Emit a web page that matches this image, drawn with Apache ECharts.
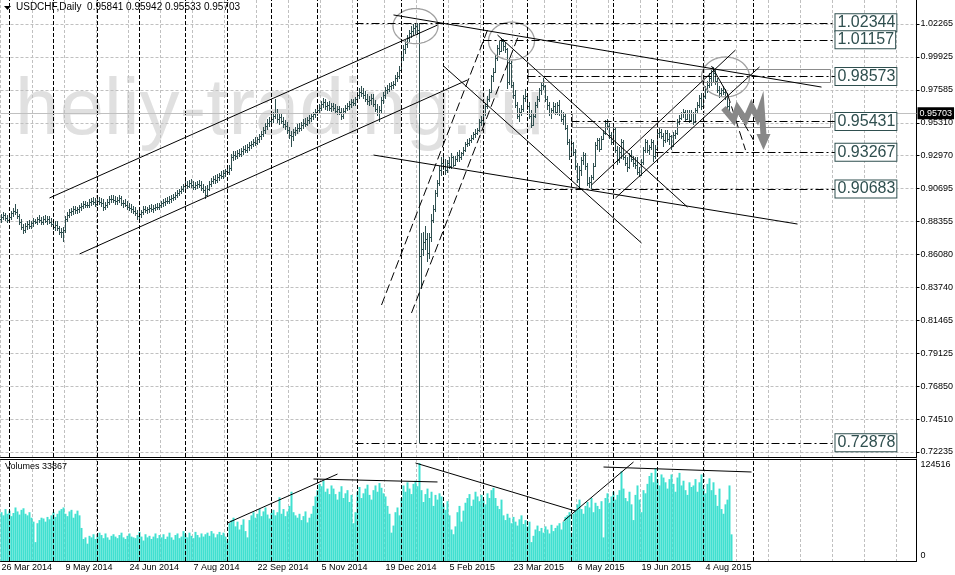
<!DOCTYPE html>
<html><head><meta charset="utf-8">
<script src="https://cdn.jsdelivr.net/npm/echarts@6/dist/echarts.min.js"></script>
<style>html,body{margin:0;padding:0;background:#fff}#c{width:955px;height:575px}</style>
</head><body><div id="c"></div>
<script>
// ---------------- DATA ----------------
const symbolTitle = 'USDCHF,Daily  0.95841 0.95942 0.95533 0.95703';
const volumeTitle = 'Volumes 33867';
const startDate = [2014, 2, 26];            // 26 Mar 2014 (first bar)
const holidays = ['2014-12-25', '2015-01-01'];
const totalSlots = 458;                      // bars + empty future space
const priceTickLabels = ['0.72235','0.74510','0.76850','0.79125','0.81465','0.83740','0.86080','0.88355','0.90695','0.92970','0.95310','0.97585','0.99925','1.02265'];
const priceTickStart = 0.72235, priceTickStep = 0.0231;
const volumeMaxLabel = '124516';
const bidPrice = 0.95703;

// daily bars [open, high, low, close] in pips (x 0.0001)
const ohlcPips = [
[8855,8892,8833,8870],[8870,8905,8848,8885],[8885,8900,8843,8862],[8862,8885,8830,8850],[8850,8890,8833,8872],[8872,8915,8853,8898],[8898,8932,8873,8912],[8912,8965,8883,8905],[8905,8925,8858,8878],[8878,8895,8818,8838],
[8838,8855,8778,8800],[8800,8825,8753,8780],[8780,8827,8758,8808],[8808,8847,8783,8825],[8825,8852,8788,8812],[8812,8847,8788,8830],[8830,8862,8803,8842],[8842,8860,8820,8838],[8838,8874,8816,8855],[8855,8884,8828,8848],
[8848,8872,8813,8835],[8835,8880,8816,8860],[8860,8884,8828,8845],[8845,8877,8818,8858],[8858,8882,8823,8840],[8840,8867,8803,8825],[8825,8852,8778,8800],[8800,8842,8773,8818],[8818,8842,8773,8792],[8792,8812,8743,8765],
[8765,8797,8728,8770],[8770,8802,8700,8782],[8782,8882,8763,8858],[8858,8907,8838,8885],[8885,8927,8863,8905],[8905,8937,8878,8912],[8912,8952,8888,8930],[8930,8950,8893,8918],[8918,8944,8893,8925],[8925,8960,8903,8940],
[8940,8970,8913,8950],[8950,8984,8928,8965],[8965,8987,8933,8955],[8955,8977,8933,8960],[8960,8997,8938,8978],[8978,9007,8953,8985],[8985,9012,8958,8980],[8980,9007,8943,8965],[8965,9002,8948,8982],[8982,9012,8956,8975],
[8975,9004,8943,8970],[8970,8997,8913,8940],[8940,8977,8918,8958],[8958,8997,8938,8978],[8978,9017,8956,8998],[8998,9027,8973,9002],[9002,9030,8973,8995],[8995,9022,8960,8985],[8985,9010,8956,8990],[8990,9024,8968,9005],
[9005,9022,8948,8968],[8968,8992,8938,8972],[8972,8997,8943,8960],[8960,8984,8923,8945],[8945,8970,8913,8938],[8938,8962,8903,8925],[8925,8952,8893,8915],[8915,8940,8878,8900],[8900,8922,8853,8878],[8878,8912,8850,8890],
[8890,8924,8868,8905],[8905,8947,8883,8928],[8928,8952,8898,8918],[8918,8944,8893,8925],[8925,8957,8903,8938],[8938,8962,8908,8930],[8930,8957,8903,8935],[8935,8964,8913,8945],[8945,8972,8918,8940],[8940,8974,8920,8955],
[8955,8987,8933,8968],[8968,8997,8943,8978],[8978,9007,8953,8988],[8988,9014,8963,8982],[8982,9017,8963,8998],[8998,9027,8973,9008],[9008,9037,8983,9015],[9015,9050,8993,9030],[9030,9062,9008,9042],[9042,9072,9018,9055],
[9055,9092,9033,9072],[9072,9107,9048,9088],[9088,9122,9063,9100],[9100,9127,9068,9092],[9092,9130,9073,9110],[9110,9137,9078,9098],[9098,9124,9063,9085],[9085,9117,9060,9095],[9095,9127,9068,9105],[9105,9132,9076,9098],
[9098,9122,9058,9078],[9078,9104,9038,9060],[9060,9087,8998,9030],[9030,9097,9013,9072],[9072,9122,9053,9102],[9102,9147,9083,9128],[9128,9162,9103,9140],[9140,9170,9106,9132],[9132,9172,9113,9152],[9152,9184,9128,9165],
[9165,9194,9138,9160],[9160,9200,9140,9180],[9180,9212,9156,9192],[9192,9222,9166,9185],[9185,9237,9168,9218],[9218,9312,9198,9290],[9290,9332,9263,9310],[9310,9337,9273,9300],[9300,9342,9278,9322],[9322,9352,9293,9315],
[9315,9357,9296,9338],[9338,9370,9308,9350],[9350,9377,9318,9342],[9342,9382,9323,9362],[9362,9397,9338,9378],[9378,9407,9348,9385],[9385,9422,9360,9402],[9402,9432,9373,9395],[9395,9437,9376,9418],[9418,9457,9393,9438],
[9438,9477,9416,9455],[9455,9502,9433,9482],[9482,9532,9458,9510],[9510,9557,9483,9535],[9535,9572,9503,9548],[9548,9587,9518,9560],[9560,9607,9533,9580],[9580,9700,9558,9600],[9600,9627,9533,9560],[9560,9597,9518,9575],
[9575,9602,9523,9545],[9545,9577,9498,9522],[9522,9552,9483,9508],[9508,9537,9458,9480],[9480,9507,9418,9445],[9445,9477,9365,9440],[9440,9492,9408,9470],[9470,9507,9443,9485],[9485,9522,9458,9500],[9500,9532,9468,9495],
[9495,9542,9473,9520],[9520,9557,9493,9535],[9535,9567,9503,9528],[9528,9572,9508,9552],[9552,9587,9523,9565],[9565,9600,9536,9580],[9580,9612,9550,9592],[9592,9632,9568,9610],[9610,9647,9583,9625],[9625,9662,9598,9638],
[9638,9687,9613,9665],[9665,9707,9638,9680],[9680,9702,9623,9648],[9648,9682,9618,9660],[9660,9687,9613,9635],[9635,9670,9606,9648],[9648,9674,9616,9640],[9640,9664,9596,9618],[9618,9650,9586,9628],[9628,9654,9590,9612],
[9612,9634,9553,9580],[9580,9637,9560,9615],[9615,9657,9593,9638],[9638,9672,9613,9650],[9650,9687,9623,9662],[9662,9700,9638,9678],[9678,9702,9648,9670],[9670,9717,9653,9698],[9698,9750,9673,9725],[9725,9777,9698,9750],
[9750,9792,9713,9740],[9740,9777,9703,9728],[9728,9757,9678,9702],[9702,9732,9658,9688],[9688,9724,9648,9695],[9695,9732,9658,9705],[9705,9732,9643,9665],[9665,9692,9608,9632],[9632,9662,9578,9605],[9605,9652,9540,9625],
[9625,9712,9603,9690],[9690,9752,9668,9728],[9728,9782,9703,9760],[9760,9797,9733,9772],[9772,9812,9748,9790],[9790,9817,9763,9795],[9795,9827,9773,9808],[9808,9867,9788,9845],[9845,9887,9818,9862],[9862,9932,9838,9905],
[9905,10022,9883,9995],[9995,10082,9968,10050],[10050,10112,10018,10085],[10085,10152,10058,10125],[10125,10187,10098,10160],[10160,10212,10128,10175],[10175,10228,10143,10200],[10200,10234,10158,10210],[10210,10232,10148,10185],[10185,10234,7288,8600],
[8600,8760,8365,8650],[8650,8770,8600,8700],[8700,8810,8640,8720],[8720,8760,8560,8620],[8620,8760,8580,8730],[8730,8890,8700,8850],[8850,8960,8830,8930],[8930,9060,8910,9040],[9040,9130,9010,9110],[9110,9230,9090,9200],
[9200,9290,9160,9250],[9250,9310,9200,9230],[9230,9280,9170,9200],[9200,9270,9180,9250],[9250,9290,9210,9230],[9230,9320,9210,9290],[9290,9300,9220,9240],[9240,9300,9230,9280],[9280,9330,9260,9310],[9310,9340,9260,9290],
[9290,9330,9270,9320],[9320,9360,9300,9345],[9345,9400,9330,9385],[9385,9420,9360,9395],[9395,9430,9370,9410],[9410,9450,9390,9430],[9430,9470,9410,9455],[9455,9490,9430,9465],[9465,9500,9445,9480],[9480,9560,9470,9540],
[9540,9580,9510,9550],[9550,9620,9530,9600],[9600,9670,9580,9650],[9650,9720,9630,9700],[9700,9770,9680,9750],[9750,9870,9740,9860],[9860,9920,9820,9890],[9890,10010,9880,9990],[9990,10080,9970,10060],[10060,10110,10010,10040],
[10040,10128,10030,10110],[10110,10120,10040,10070],[10070,10100,10020,10050],[10050,10060,9770,9820],[9820,9990,9800,9950],[9950,9970,9780,9800],[9800,9820,9700,9730],[9730,9760,9640,9660],[9660,9680,9560,9580],[9580,9640,9540,9610],
[9610,9660,9580,9630],[9630,9730,9610,9710],[9710,9770,9680,9720],[9720,9740,9620,9650],[9650,9680,9560,9580],[9580,9620,9500,9520],[9520,9600,9510,9580],[9580,9680,9570,9660],[9660,9720,9640,9700],[9700,9780,9680,9760],
[9760,9820,9730,9800],[9800,9850,9760,9790],[9790,9800,9680,9700],[9700,9720,9620,9660],[9660,9680,9580,9600],[9600,9640,9560,9620],[9620,9680,9600,9650],[9650,9670,9590,9610],[9610,9680,9590,9660],[9660,9690,9580,9600],
[9600,9620,9540,9560],[9560,9610,9520,9580],[9580,9600,9480,9500],[9500,9520,9380,9400],[9400,9420,9270,9300],[9300,9420,9290,9390],[9390,9400,9300,9330],[9330,9350,9200,9230],[9230,9250,9110,9140],[9140,9230,9072,9200],
[9200,9290,9160,9270],[9270,9330,9240,9310],[9310,9320,9200,9230],[9230,9250,9090,9110],[9110,9150,9075,9120],[9120,9170,9071,9150],[9150,9250,9130,9230],[9230,9400,9220,9380],[9380,9430,9340,9410],[9410,9430,9330,9350],
[9350,9440,9340,9420],[9420,9480,9410,9460],[9460,9550,9450,9530],[9530,9560,9480,9510],[9510,9530,9420,9450],[9450,9470,9380,9400],[9400,9510,9390,9490],[9490,9500,9320,9340],[9340,9370,9240,9270],[9270,9360,9250,9330],
[9330,9420,9280,9400],[9400,9410,9270,9290],[9290,9310,9230,9250],[9250,9290,9190,9220],[9220,9320,9210,9300],[9300,9340,9260,9280],[9280,9300,9220,9250],[9250,9290,9210,9240],[9240,9290,9170,9190],[9190,9220,9150,9170],
[9170,9280,9160,9260],[9260,9360,9240,9340],[9340,9420,9320,9400],[9400,9410,9320,9340],[9340,9380,9310,9360],[9360,9420,9340,9400],[9400,9410,9260,9300],[9300,9380,9280,9350],[9350,9480,9340,9460],[9460,9500,9430,9470],
[9470,9490,9420,9440],[9440,9460,9360,9410],[9410,9480,9390,9460],[9460,9480,9400,9420],[9420,9460,9380,9440],[9440,9450,9340,9370],[9370,9470,9360,9450],[9450,9480,9420,9460],[9460,9560,9450,9540],[9540,9590,9520,9570],
[9570,9610,9550,9600],[9600,9630,9570,9610],[9610,9620,9540,9560],[9560,9620,9550,9600],[9600,9620,9530,9550],[9550,9620,9540,9600],[9600,9610,9520,9540],[9540,9640,9530,9620],[9620,9680,9600,9660],[9660,9730,9640,9710],
[9710,9740,9620,9650],[9650,9730,9640,9720],[9720,9790,9700,9770],[9770,9830,9740,9800],[9800,9880,9780,9850],[9850,9910,9790,9820],[9820,9925,9810,9880],[9880,9910,9800,9830],[9830,9850,9740,9760],[9760,9790,9710,9740],
[9740,9780,9720,9760],[9760,9790,9730,9750],[9750,9770,9690,9720],[9720,9740,9620,9650],[9650,9680,9580,9584.1],[9584.1,9594.2,9553.3,9570.3]
];

// daily tick volume, thousands
const volumesK = [
62,58,66,60,64,57,61,68,63,59, 65,67,60,58,62,55,50,24,48,52, 55,54,50,56,53,58,62,56,60,64, 66,68,60,57,63,65,55,60,64,58,
42,28,30,22,32,30,34,28,31,36, 33,29,35,30,27,32,34,31,29,33, 36,30,28,32,35,31,30,29,33,37, 31,26,34,30,32,28,31,35,29,33,
30,34,28,31,36,30,27,33,35,29, 31,38,34,30,36,32,29,37,33,30, 35,31,34,36,32,38,35,30,34,37, 33,36,31,25,48,52,55,44,50,40,
46,53,38,30,52,58,62,55,60,66, 57,63,68,59,54,61,65,58,62,81, 60,66,57,63,70,88,62,58,55,60, 52,57,63,49,55,60,70,82,90,98,
95,102,88,92,85,96,92,85,78,88, 95,80,86,90,75,84,48,62,88,94, 80,86,92,97,84,78,90,96,88,99, 93,86,82,70,60,36,45,62,68,58,
80,96,88,100,92,85,98,102,95,124.516, 90,75,85,92,80,88,70,84,78,86, 82,72,65,76,58,40,34,44,62,70, 50,64,74,80,85,70,78,88,82,76,
84,78,72,86,80,90,93,80,70,66, 78,58,52,60,55,48,56,50,45,53, 58,47,52,44,50,24,32,40,45,38, 42,36,44,40,35,46,38,42,45,48,
40,50,56,58,62,36,60,65,72,78, 66,60,70,75,68,80,62,74,70,66, 76,30,80,86,74,82,88,78,84,90, 114,92,80,76,88,72,52,84,96,78,
62,90,86,98,108,112,100,118,104,96, 110,106,100,92,104,110,98,88,106,112, 96,102,90,84,100,94,96,104,88,100, 110,92,86,98,105,90,100,84,70,92,
66,60,72,78,96,33.867
];

// drawn objects (bar index, price)
const levelLines = [
  {value: 1.02344, from: 177}, {value: 1.01157, from: 241}, {value: 0.98573, from: 263},
  {value: 0.95431, from: 285}, {value: 0.93267, from: 327}, {value: 0.90683, from: 263},
  {value: 0.72878, from: 177}
];
const levelEnd = 417;
const trendLines = [
  [[24, 0.9006], [218, 1.0219]],
  [[196, 1.0290], [410, 0.9784]],
  [[39, 0.8613], [233, 0.9834]],
  [[221, 0.9932], [320, 0.8690]],
  [[186, 0.9307], [398, 0.8823]],
  [[248, 1.0149], [343, 0.8942]],
  [[295, 0.9097], [367, 1.0044]],
  [[307, 0.9006], [379, 0.9925]],
  [[355, 0.9932], [363, 0.9735]]
];
const dashedLines = [
  [[190, 0.8255], [243, 1.0184]],
  [[205, 0.8199], [259, 1.0163]],
  [[363, 0.9735], [372, 0.9342]],
  [[368, 0.9609], [376, 0.9412]]
];
const extraVLines = [376];
const zones = [[263, 0.9909, 414, 0.9817], [285, 0.9600, 414, 0.9502]];
const ellipses = [[207, 1.0212, 11.25, 0.0123], [255, 1.0107, 11.5, 0.0133], [362, 0.9855, 12, 0.0140]];
const arrowPath = [[361, 0.9637], [366, 0.9553], [368, 0.9637], [372, 0.9553], [375, 0.9651], [378, 0.9567], [380, 0.9651], [381, 0.9448]];
const arrowTip = [381, 0.9342];
const volumeLinesK = [
  [[113, 48.3], [168, 110.5]],
  [[156, 104.2], [218, 100.4]],
  [[207, 124.5], [287, 63.5]],
  [[281, 50.8], [316, 125.8]],
  [[301, 119.4], [375, 113.1]]
];

// ---------------- BUILD ----------------
const MONTHS = ['Jan','Feb','Mar','Apr','May','Jun','Jul','Aug','Sep','Oct','Nov','Dec'];
const dates = [], monthOf = [];
{
  const d = new Date(Date.UTC(startDate[0], startDate[1], startDate[2]));
  while (dates.length < totalSlots) {
    const wd = d.getUTCDay();
    const iso = d.toISOString().slice(0, 10);
    if (wd !== 0 && wd !== 6 && holidays.indexOf(iso) < 0) {
      dates.push(d.getUTCDate() + ' ' + MONTHS[d.getUTCMonth()] + ' ' + d.getUTCFullYear());
      monthOf.push(d.getUTCMonth());
    }
    d.setUTCDate(d.getUTCDate() + 1);
  }
}
const ohlc = ohlcPips.map(b => b.map(v => v / 10000));
const lastIdx = ohlc.length - 1;
const vols = volumesK.map(v => Math.round(v * 1000));
const monthStarts = [];
for (let i = 1; i <= lastIdx; i++) if (monthOf[i] !== monthOf[i - 1]) monthStarts.push(i);
const priceTicks = priceTickLabels.map((_, k) => +(priceTickStart + k * priceTickStep).toFixed(5));

const PRICE_MAX = 1.03949, PRICE_MIN = 0.71884, VOL_MAX = 129600;
const FN = '"Liberation Sans",sans-serif';
const GRIDLINE = {color: '#c0c0c0', type: [3, 2], width: 1};
const SEP = {color: '#000', type: [4, 2], width: 1};
const SOLID = {color: '#000', type: 'solid', width: 1};
const DASH = {color: '#000', type: [9, 4], width: 1};
const DASHDOT = {color: '#000', type: [8, 3, 2, 3], width: 1};

const mainMarks = [];
monthStarts.concat(extraVLines).forEach(i => mainMarks.push({xAxis: i, lineStyle: SEP}));
mainMarks.push({yAxis: bidPrice, lineStyle: {color: '#c0c0c0', type: 'solid', width: 1},
  label: {show: true, position: 'end', distance: 1, formatter: bidPrice.toFixed(5), color: '#fff',
    backgroundColor: '#000', padding: [2, 2, 1, 2], fontSize: 9, fontFamily: FN}});
levelLines.forEach(l => mainMarks.push([
  {coord: [l.from, l.value], lineStyle: DASHDOT,
   label: {show: true, position: 'end', distance: 0, formatter: l.value.toFixed(5), color: '#2f4f4f',
     fontSize: 16, lineHeight: 16, fontFamily: FN, backgroundColor: '#fff',
     borderColor: '#2f4f4f', borderWidth: 1, padding: [1, 1, 0, 2]}},
  {coord: [levelEnd, l.value]}]));
trendLines.forEach(s => mainMarks.push([{coord: s[0].slice(), lineStyle: SOLID}, {coord: s[1].slice()}]));
dashedLines.forEach(s => mainMarks.push([{coord: s[0].slice(), lineStyle: DASH}, {coord: s[1].slice()}]));

const volMarks = [];
monthStarts.concat(extraVLines).forEach(i => volMarks.push({xAxis: i, lineStyle: SEP}));
volumeLinesK.forEach(s => volMarks.push([{coord: [s[0][0], s[0][1] * 1000], lineStyle: SOLID}, {coord: [s[1][0], s[1][1] * 1000]}]));

const BAR_COLOR = '#2f4f4f';
const chart = echarts.init(document.getElementById('c'), null, {renderer: 'canvas'});
chart.setOption({
  animation: false,
  backgroundColor: '#ffffff',
  grid: [
    {left: 0.5, right: 38.5, top: 0, height: 457, outerBoundsMode: 'none', containLabel: false},
    {left: 0.5, right: 38.5, top: 459, height: 102, outerBoundsMode: 'none', containLabel: false}
  ],
  xAxis: [
    {type: 'category', gridIndex: 0, data: dates, boundaryGap: true,
     axisLine: {show: true, onZero: false, lineStyle: {color: '#000'}}, axisTick: {show: false}, axisLabel: {show: false},
     splitLine: {show: true, interval: 15, lineStyle: GRIDLINE}},
    {type: 'category', gridIndex: 1, data: dates, boundaryGap: true, position: 'bottom',
     axisLine: {show: true, onZero: false, lineStyle: {color: '#000'}}, axisTick: {show: false},
     axisLabel: {show: true, interval: 31, align: 'left', margin: 2, color: '#000', fontSize: 9, fontFamily: FN,
       hideOverlap: false, formatter: (v, idx) => idx <= lastIdx ? v : ''},
     splitLine: {show: true, interval: 15, lineStyle: GRIDLINE}},
    {type: 'category', gridIndex: 1, data: dates, boundaryGap: true, position: 'top',
     axisLine: {show: true, onZero: false, lineStyle: {color: '#000'}}, axisTick: {show: false}, axisLabel: {show: false},
     splitLine: {show: false}}
  ],
  yAxis: [
    {type: 'value', gridIndex: 0, position: 'right', min: PRICE_MIN, max: PRICE_MAX, scale: true,
     axisLine: {show: true, lineStyle: {color: '#000'}},
     axisTick: {show: true, length: 3, customValues: priceTicks, lineStyle: {color: '#000'}},
     axisLabel: {show: true, customValues: priceTicks, margin: 4, color: '#000', fontSize: 9, fontFamily: FN,
       formatter: v => priceTickLabels[Math.round((v - priceTickStart) / priceTickStep)] || ''},
     splitLine: {show: true, lineStyle: GRIDLINE}},
    {type: 'value', gridIndex: 1, position: 'right', min: 0, max: VOL_MAX,
     axisLine: {show: true, lineStyle: {color: '#000'}}, axisTick: {show: false},
     axisLabel: {show: true, customValues: [6400, 122000], margin: 4, color: '#000', fontSize: 9, fontFamily: FN,
       formatter: v => v > 60000 ? volumeMaxLabel : '0'},
     splitLine: {show: false}}
  ],
  graphic: [
    {type: 'text', left: 15, top: 72, z: -5, silent: true,
     style: {text: 'heliy-trading.ru', font: '80px "Liberation Sans", sans-serif', fill: '#e0e0e0'}},
    {type: 'polygon', z: 50, silent: true, shape: {points: [[4, 6], [11, 6], [7.5, 10]]}, style: {fill: '#000'}},
    {type: 'text', left: 16, top: 2, z: 50, silent: true,
     style: {text: symbolTitle, font: '10px ' + FN, fill: '#000'}},
    {type: 'text', left: 5, top: 462, z: 50, silent: true,
     style: {text: volumeTitle, font: '9px ' + FN, fill: '#000'}}
  ],
  series: [
    {type: 'custom', name: 'bars', xAxisIndex: 0, yAxisIndex: 0, silent: true, clip: true, z: 2,
     data: ohlc.map((b, i) => [i, b[0], b[1], b[2], b[3]]),
     encode: {x: 0, y: [1, 2, 3, 4]},
     renderItem: (params, api) => {
       const i = api.value(0);
       const o = api.coord([i, api.value(1)]);
       const h = api.coord([i, api.value(2)]);
       const l = api.coord([i, api.value(3)]);
       const c = api.coord([i, api.value(4)]);
       const x = Math.floor(h[0]) + 0.5;
       let y1 = Math.round(h[1]), y2 = Math.round(l[1]);
       if (y2 - y1 < 1) y2 = y1 + 1;
       const yo = Math.round(o[1]) + 0.5, yc = Math.round(c[1]) + 0.5;
       const st = {stroke: BAR_COLOR, lineWidth: 1};
       return {type: 'group', children: [
         {type: 'line', shape: {x1: x, y1: y1, x2: x, y2: y2}, style: st},
         {type: 'line', shape: {x1: x - 1.5, y1: yo, x2: x, y2: yo}, style: st},
         {type: 'line', shape: {x1: x, y1: yc, x2: x + 1.5, y2: yc}, style: st}
       ]};
     }},
    {type: 'line', name: 'marks', xAxisIndex: 0, yAxisIndex: 0, silent: true, clip: false, z: 4,
     data: ohlc.map(b => b[3]), showSymbol: false, lineStyle: {opacity: 0, width: 0},
     markLine: {silent: true, symbol: ['none', 'none'], animation: false, label: {show: false}, data: mainMarks}},
    {type: 'custom', name: 'zones', xAxisIndex: 0, yAxisIndex: 0, silent: true, clip: true, z: 3,
     data: zones, encode: {x: [0, 2], y: [1, 3]},
     renderItem: (params, api) => {
       const a = api.coord([api.value(0), api.value(1)]);
       const b = api.coord([api.value(2), api.value(3)]);
       const x = Math.round(Math.min(a[0], b[0])) + 0.5, y = Math.round(Math.min(a[1], b[1])) + 0.5;
       return {type: 'rect', shape: {x: x, y: y, width: Math.round(Math.abs(b[0] - a[0])), height: Math.round(Math.abs(b[1] - a[1]))},
         style: {fill: 'none', stroke: '#8c8c8c', lineWidth: 1}};
     }},
    {type: 'custom', name: 'ellipses', xAxisIndex: 0, yAxisIndex: 0, silent: true, clip: true, z: 3,
     data: ellipses, encode: {x: 0, y: 1},
     renderItem: (params, api) => {
       const c = api.coord([api.value(0), api.value(1)]);
       const rx = api.value(2) * api.size([1, 0])[0];
       const ry = api.size([0, api.value(3)])[1];
       const pts = [];
       for (let k = 0; k <= 80; k++) { const t = k / 80 * Math.PI * 2; pts.push([c[0] + rx * Math.cos(t), c[1] + ry * Math.sin(t)]); }
       return {type: 'polyline', shape: {points: pts}, style: {fill: 'none', stroke: '#a0a0a0', lineWidth: 1.3}};
     }},
    {type: 'custom', name: 'arrow', xAxisIndex: 0, yAxisIndex: 0, silent: true, clip: true, z: 5,
     data: [arrowTip], encode: {x: 0, y: 1},
     renderItem: (params, api) => {
       const pts = arrowPath.map(p => api.coord(p));
       const tip = api.coord(arrowTip);
       const last = pts[pts.length - 1];
       const dx = tip[0] - last[0], dy = tip[1] - last[1], len = Math.sqrt(dx * dx + dy * dy) || 1;
       const ux = dx / len, uy = dy / len;
       const bx = tip[0] - ux * 16, by = tip[1] - uy * 16;
       return {type: 'group', children: [
         {type: 'polyline', shape: {points: pts.concat([[bx, by]])}, style: {fill: 'none', stroke: '#888888', lineWidth: 6, lineJoin: 'miter'}},
         {type: 'polygon', shape: {points: [tip, [bx - uy * 7, by + ux * 7], [bx + uy * 7, by - ux * 7]]}, style: {fill: '#888888'}}
       ]};
     }},
    {type: 'bar', name: 'volume', xAxisIndex: 1, yAxisIndex: 1, silent: true, data: vols,
     barCategoryGap: '0%', barGap: '0%', itemStyle: {color: '#40e0d0'},
     markLine: {silent: true, symbol: ['none', 'none'], animation: false, label: {show: false}, data: volMarks}}
  ]
});
</script>
</body></html>
